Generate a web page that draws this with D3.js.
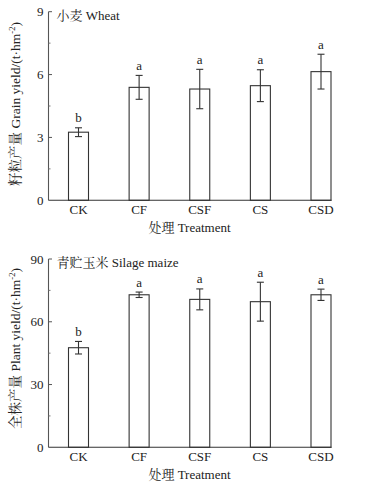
<!DOCTYPE html>
<html><head><meta charset="utf-8">
<script src="https://cdn.jsdelivr.net/npm/d3@7"></script>
<style>
body{margin:0;background:#fff;}
svg{display:block;}
text{font-family:"Liberation Serif","Noto Serif CJK SC","Noto Sans CJK SC",serif;fill:#222;}
</style></head>
<body>
<svg id="c" width="367" height="485"></svg>
<script>
const categories = ["CK","CF","CSF","CS","CSD"];
const wheatMeans = [3.25, 5.39, 5.31, 5.47, 6.14];
const wheatErrors = [0.21, 0.57, 0.94, 0.76, 0.83];
const wheatLetters = ["b","a","a","a","a"];
const wheatTicks = [0,3,6,9];
const wheatMinor = [1.5,4.5,7.5];
const maizeMeans = [47.6, 72.9, 70.7, 69.6, 72.9];
const maizeErrors = [3.0, 1.3, 5.0, 9.3, 2.7];
const maizeLetters = ["b","a","a","a","a"];
const maizeTicks = [0,30,60,90];
const maizeMinor = [15,45,75];

const svg = d3.select("#c");

function panel(o){
  const g = svg.append("g");
  const x = d3.scalePoint().domain(categories).range([78.5, 321]);
  const bw = 20;
  const y = d3.scaleLinear().domain([0, o.max]).range([o.y0, o.y1]);
  const axisX = 48.5, axisRight = 331.5;
  g.selectAll("rect.bar").data(categories).join("rect")
    .attr("x", d => x(d) - bw/2).attr("width", bw)
    .attr("y", (d,i) => y(o.means[i])).attr("height", (d,i) => y(0) - y(o.means[i]))
    .attr("fill","#fff").attr("stroke","#333").attr("stroke-width",1.1);
  const eb = g.selectAll("g.eb").data(categories).join("g");
  eb.append("line").attr("x1", d=>x(d)).attr("x2", d=>x(d))
    .attr("y1",(d,i)=>y(o.means[i]+o.errors[i])).attr("y2",(d,i)=>y(o.means[i]-o.errors[i]))
    .attr("stroke","#333").attr("stroke-width",1.1);
  [1,-1].forEach(s=>{
    eb.append("line").attr("x1", d=>x(d)-3.5).attr("x2", d=>x(d)+3.5)
      .attr("y1",(d,i)=>y(o.means[i]+s*o.errors[i])).attr("y2",(d,i)=>y(o.means[i]+s*o.errors[i]))
      .attr("stroke","#333").attr("stroke-width",1.1);
  });
  g.selectAll("text.let").data(categories).join("text")
    .attr("x", d=>x(d)).attr("y",(d,i)=>y(o.means[i]+o.errors[i]) - 5.5)
    .attr("text-anchor","middle").attr("font-size",13).text((d,i)=>o.letters[i]);
  g.append("line").attr("x1",axisX).attr("x2",axisX).attr("y1",y(o.max)).attr("y2",y(0))
    .attr("stroke","#555").attr("stroke-width",1.1);
  g.append("line").attr("x1",axisX).attr("x2",axisRight).attr("y1",y(0)).attr("y2",y(0))
    .attr("stroke","#333").attr("stroke-width",1.1);
  g.selectAll("line.tk").data(o.ticks.filter(t=>t>0)).join("line")
    .attr("x1",axisX).attr("x2",axisX+3.5).attr("y1",d=>y(d)).attr("y2",d=>y(d))
    .attr("stroke","#555").attr("stroke-width",1);
  g.selectAll("line.mn").data(o.minor).join("line")
    .attr("x1",axisX).attr("x2",axisX+2).attr("y1",d=>y(d)).attr("y2",d=>y(d))
    .attr("stroke","#777").attr("stroke-width",1);
  g.selectAll("text.tl").data(o.ticks).join("text")
    .attr("x",43.5).attr("y",d=>y(d)+4.5).attr("text-anchor","end").attr("font-size",13).text(d=>d);
  g.selectAll("text.cl").data(categories).join("text")
    .attr("x",d=>x(d)).attr("y",y(0)+13.5).attr("text-anchor","middle").attr("font-size",13).text(d=>d);
  g.append("text").attr("x",189.5).attr("y",y(0)+31.5).attr("text-anchor","middle").attr("font-size",13)
    .text("处理 Treatment");
  g.append("text").attr("x",56.5).attr("y",y(o.max)+8).attr("font-size",13).text(o.title);
  const yt = g.append("text").attr("transform",`translate(19.5,${o.ytc}) rotate(-90)`)
    .attr("text-anchor","middle").attr("font-size",13.5);
  yt.append("tspan").text(o.ytitle);
  yt.append("tspan").attr("dy",-5).attr("font-size",8.5).text("-2");
  yt.append("tspan").attr("dy",5).text(")");
}

panel({means:wheatMeans, errors:wheatErrors, letters:wheatLetters, ticks:wheatTicks, minor:wheatMinor,
  max:9, y0:200.3, y1:11.7, title:"小麦 Wheat", ytitle:"籽粒产量 Grain yield/(t·hm", ytc:104});
panel({means:maizeMeans, errors:maizeErrors, letters:maizeLetters, ticks:maizeTicks, minor:maizeMinor,
  max:90, y0:447.3, y1:259, title:"青贮玉米 Silage maize", ytitle:"全株产量 Plant yield/(t·hm", ytc:348.5});
</script>
</body></html>
